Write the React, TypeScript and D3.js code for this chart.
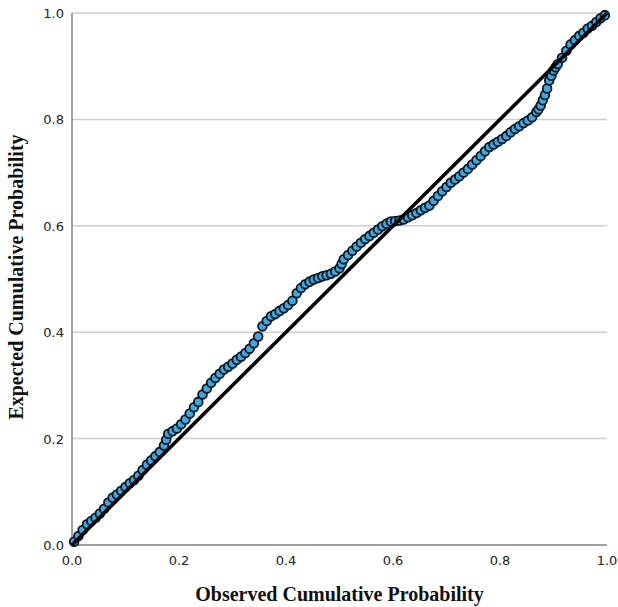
import React from "react";
import * as d3 from "d3";

const observedCum: number[] = [
  0.004, 0.012, 0.020, 0.028, 0.036, 0.044, 0.052, 0.060, 0.068, 0.076,
  0.084, 0.092, 0.100, 0.108, 0.116, 0.124, 0.132, 0.140, 0.148, 0.156,
  0.164, 0.172, 0.176, 0.180, 0.188, 0.196, 0.204, 0.212, 0.220, 0.228,
  0.236, 0.244, 0.252, 0.260, 0.268, 0.276, 0.284, 0.292, 0.300, 0.308,
  0.316, 0.324, 0.332, 0.340, 0.348, 0.356, 0.364, 0.372, 0.380, 0.388,
  0.396, 0.404, 0.412, 0.420, 0.428, 0.436, 0.444, 0.452, 0.460, 0.468,
  0.476, 0.484, 0.492, 0.500, 0.504, 0.508, 0.516, 0.524, 0.532, 0.540,
  0.548, 0.556, 0.564, 0.572, 0.580, 0.588, 0.596, 0.604, 0.612, 0.620,
  0.628, 0.636, 0.644, 0.652, 0.660, 0.668, 0.676, 0.684, 0.692, 0.700,
  0.708, 0.716, 0.724, 0.732, 0.740, 0.748, 0.756, 0.764, 0.772, 0.780,
  0.788, 0.796, 0.804, 0.812, 0.820, 0.828, 0.836, 0.844, 0.852, 0.860,
  0.868, 0.872, 0.876, 0.880, 0.884, 0.888, 0.892, 0.896, 0.900, 0.904,
  0.908, 0.916, 0.924, 0.932, 0.940, 0.948, 0.956, 0.964, 0.972, 0.980,
  0.988, 0.996,
];

const expectedCum: number[] = [
  0.006, 0.017, 0.028, 0.039, 0.045, 0.051, 0.059, 0.068, 0.080, 0.089,
  0.095, 0.102, 0.109, 0.116, 0.122, 0.130, 0.141, 0.151, 0.159, 0.167,
  0.175, 0.187, 0.198, 0.209, 0.214, 0.219, 0.227, 0.236, 0.247, 0.259,
  0.269, 0.283, 0.294, 0.305, 0.314, 0.322, 0.330, 0.335, 0.341, 0.348,
  0.354, 0.361, 0.369, 0.379, 0.392, 0.411, 0.421, 0.430, 0.434, 0.440,
  0.445, 0.451, 0.459, 0.473, 0.483, 0.490, 0.495, 0.499, 0.502, 0.505,
  0.507, 0.510, 0.514, 0.520, 0.528, 0.537, 0.545, 0.553, 0.561, 0.568,
  0.575, 0.581, 0.587, 0.593, 0.599, 0.604, 0.608, 0.609, 0.610, 0.612,
  0.616, 0.620, 0.624, 0.629, 0.634, 0.638, 0.647, 0.656, 0.665, 0.673,
  0.681, 0.687, 0.693, 0.700, 0.707, 0.715, 0.723, 0.731, 0.740, 0.748,
  0.753, 0.758, 0.763, 0.769, 0.776, 0.782, 0.787, 0.793, 0.798, 0.804,
  0.814, 0.819, 0.826, 0.836, 0.846, 0.858, 0.873, 0.882, 0.892, 0.898,
  0.904, 0.916, 0.929, 0.941, 0.949, 0.957, 0.963, 0.971, 0.976, 0.983,
  0.990, 0.996,
];

const tickValues: number[] = [0, 0.2, 0.4, 0.6, 0.8, 1.0];
const xTitle = "Observed Cumulative Probability";
const yTitle = "Expected Cumulative Probability";

const W = 618;
const H = 607;
const left = 72;
const right = 607;
const top = 13;
const bottom = 545;

export default function App() {
  const x = d3.scaleLinear().domain([0, 1]).range([left, right]);
  const y = d3.scaleLinear().domain([0, 1]).range([bottom, top]);
  const fmt = d3.format(".1f");
  const points = observedCum.map((v, i) => [v, expectedCum[i]] as [number, number]);
  const diag = d3.line<number>().x((d) => x(d)).y((d) => y(d))([0, 1]) as string;

  return (
    <svg
      width={W}
      height={H}
      style={{ position: "absolute", left: 0, top: 0, background: "#fff" }}
    >
      <rect x={0} y={0} width={W} height={H} fill="#fff" />
      {tickValues.map((t) => (
        <line
          key={"g" + t}
          x1={left}
          x2={right}
          y1={y(t)}
          y2={y(t)}
          stroke="#cfcfcf"
          strokeWidth={1.5}
        />
      ))}
      <line x1={left} x2={left} y1={top} y2={bottom} stroke="#8a8a8a" strokeWidth={1.6} />
      <line x1={left} x2={right} y1={bottom} y2={bottom} stroke="#8a8a8a" strokeWidth={1.6} />
      {tickValues.map((t) => (
        <text
          key={"yl" + t}
          x={left - 8}
          y={y(t) + 5}
          textAnchor="end"
          fontFamily="DejaVu Sans"
          fontSize={13}
          fill="#222"
        >
          {fmt(t)}
        </text>
      ))}
      {tickValues.map((t) => (
        <text
          key={"xl" + t}
          x={x(t)}
          y={565}
          textAnchor="middle"
          fontFamily="DejaVu Sans"
          fontSize={13}
          fill="#222"
        >
          {fmt(t)}
        </text>
      ))}
      <g>
        {points.map((p, i) => (
          <circle
            key={i}
            cx={x(p[0])}
            cy={y(p[1])}
            r={4.4}
            fill="#3ba8e2"
            stroke="#0a151d"
            strokeWidth={1.8}
          />
        ))}
      </g>
      <path d={diag} stroke="#000" strokeWidth={3.6} fill="none" />
      <text
        x={(left + right) / 2}
        y={601}
        textAnchor="middle"
        fontFamily="Liberation Serif"
        fontWeight="bold"
        fontSize={20}
        fill="#111"
      >
        {xTitle}
      </text>
      <text
        transform={`translate(23, ${(top + bottom) / 2 - 2}) rotate(-90)`}
        textAnchor="middle"
        fontFamily="Liberation Serif"
        fontWeight="bold"
        fontSize={20}
        fill="#111"
      >
        {yTitle}
      </text>
    </svg>
  );
}
